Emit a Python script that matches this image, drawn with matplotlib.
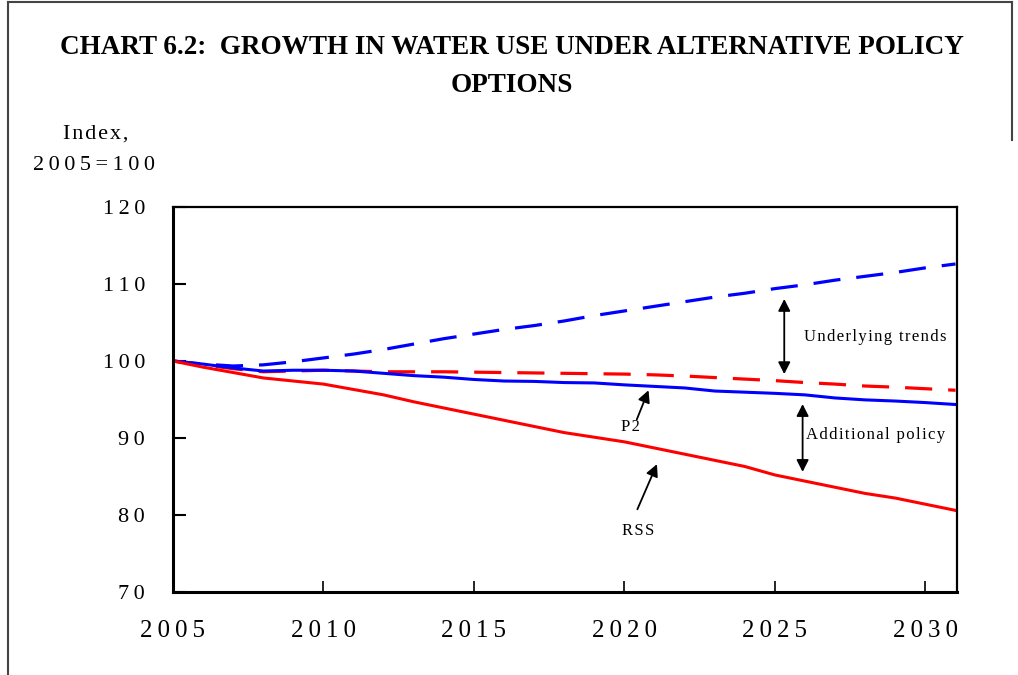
import matplotlib
matplotlib.use("Agg")
import matplotlib.pyplot as plt
from matplotlib.lines import Line2D

years = list(range(2005, 2032))
underlying_trends = [100.0, 99.6, 99.35, 99.5, 99.9, 100.4, 100.9, 101.5, 102.2, 102.9,
                     103.5, 104.1, 104.6, 105.2, 105.9, 106.5, 107.1, 107.7, 108.3, 108.8,
                     109.4, 109.9, 110.5, 111.0, 111.5, 112.1, 112.6]
p1_dashed = [100.0, 99.5, 99.0, 98.6, 98.7, 98.8, 98.7, 98.6, 98.6, 98.6,
             98.55, 98.5, 98.45, 98.4, 98.35, 98.3, 98.2, 98.05, 97.85, 97.65,
             97.45, 97.2, 97.0, 96.75, 96.6, 96.4, 96.2]
p2 = [100.0, 99.6, 99.1, 98.7, 98.8, 98.8, 98.7, 98.4, 98.1, 97.9,
      97.6, 97.4, 97.35, 97.2, 97.15, 96.9, 96.7, 96.5, 96.1, 95.95,
      95.8, 95.6, 95.2, 94.95, 94.8, 94.6, 94.35]
rss = [100.0, 99.2, 98.5, 97.8, 97.4, 97.0, 96.3, 95.6, 94.7, 93.9,
       93.1, 92.3, 91.5, 90.7, 90.1, 89.5, 88.7, 87.9, 87.1, 86.3,
       85.2, 84.4, 83.6, 82.8, 82.2, 81.4, 80.6]

x_ticks = [2005, 2010, 2015, 2020, 2025, 2030]
y_ticks = [70, 80, 90, 100, 110, 120]

SP = "\u2009"
HS = "\u200a"
def spaced(s, sep=SP):
    return sep.join(list(s))

serif = ["Liberation Serif", "DejaVu Serif"]
plt.rcParams["font.family"] = serif

fig = plt.figure(figsize=(10.18, 6.75), dpi=100)
ax = fig.add_axes([173/1018, 1-592/675, (957-173)/1018, (592-207)/675])

ax.plot(years, underlying_trends, color="#0000ff", lw=2.3, dashes=(8.5, 5))
ax.plot(years, p1_dashed, color="#ff0000", lw=2.3, dashes=(8.5, 5))
ax.plot(years, p2, color="#0000ff", lw=2.2)
ax.plot(years, rss, color="#ff0000", lw=2.2)

ax.set_xlim(2005, 2031.05)
ax.set_ylim(70, 120)
ax.set_xticks(x_ticks)
ax.set_xticklabels([spaced(str(t)) for t in x_ticks], fontsize=18)
ax.set_yticks(y_ticks)
ax.set_yticklabels([spaced(str(t)) for t in y_ticks], fontsize=16)
ax.tick_params(axis="x", direction="in", length=8, width=1.2, pad=20, color="black")
ax.tick_params(axis="y", direction="in", length=9, width=1.5, pad=20, color="black")
for s in ["left", "bottom"]:
    ax.spines[s].set_linewidth(2.2)
for s in ["top", "right"]:
    ax.spines[s].set_linewidth(1.6)

# annotations
arrow_kw = dict(arrowstyle="<|-|>,head_length=0.55,head_width=0.28", color="black", lw=1.3,
                mutation_scale=13, shrinkA=0, shrinkB=0)
ax.annotate("", xy=(2025.31, 108.05), xytext=(2025.31, 98.3), arrowprops=arrow_kw)
ax.annotate("", xy=(2025.92, 94.4), xytext=(2025.92, 85.6), arrowprops=arrow_kw)
single_kw = dict(arrowstyle="-|>,head_length=0.55,head_width=0.28", color="black", lw=1.3,
                 mutation_scale=13, shrinkA=0, shrinkB=0)
ax.annotate("", xy=(2020.8, 96.2), xytext=(2020.41, 92.4), arrowprops=single_kw)
ax.annotate("", xy=(2021.08, 86.6), xytext=(2020.43, 80.74), arrowprops=single_kw)

ax.text(2028.34, 103.1, spaced("Underlying trends", HS), fontsize=12, ha="center", va="center")
ax.text(2028.34, 90.4, spaced("Additional policy", HS), fontsize=12, ha="center", va="center")
ax.text(2020.2, 91.45, spaced("P2", HS), fontsize=12, ha="center", va="center")
ax.text(2020.44, 77.9, spaced("RSS", HS), fontsize=12, ha="center", va="center")

# axis title
fig.text(96/1018, 1-134/675, spaced("Index,", HS), fontsize=16, ha="center", va="center")
fig.text(94/1018, 1-166/675, spaced("2005=100"), fontsize=16, ha="center", va="center")

# chart title
fig.text(512/1018, 1-47/675, "CHART 6.2:  GROWTH IN WATER USE UNDER ALTERNATIVE POLICY",
         fontsize=19.5, fontweight="bold", ha="center", va="center")
fig.text(512/1018, 1-85/675, "OPTIONS", fontsize=19.5, fontweight="bold",
         ha="center", va="center")

# outer frame
fc = "#444444"
fig.add_artist(Line2D([8/1018, 8/1018], [0, 1-2/675], transform=fig.transFigure, color=fc, lw=1.5))
fig.add_artist(Line2D([8/1018, 1012/1018], [1-2/675, 1-2/675], transform=fig.transFigure, color=fc, lw=1.5))
fig.add_artist(Line2D([1012/1018, 1012/1018], [1-2/675, 1-140/675], transform=fig.transFigure, color=fc, lw=1.5))

fig.savefig("out.png", dpi=100)
